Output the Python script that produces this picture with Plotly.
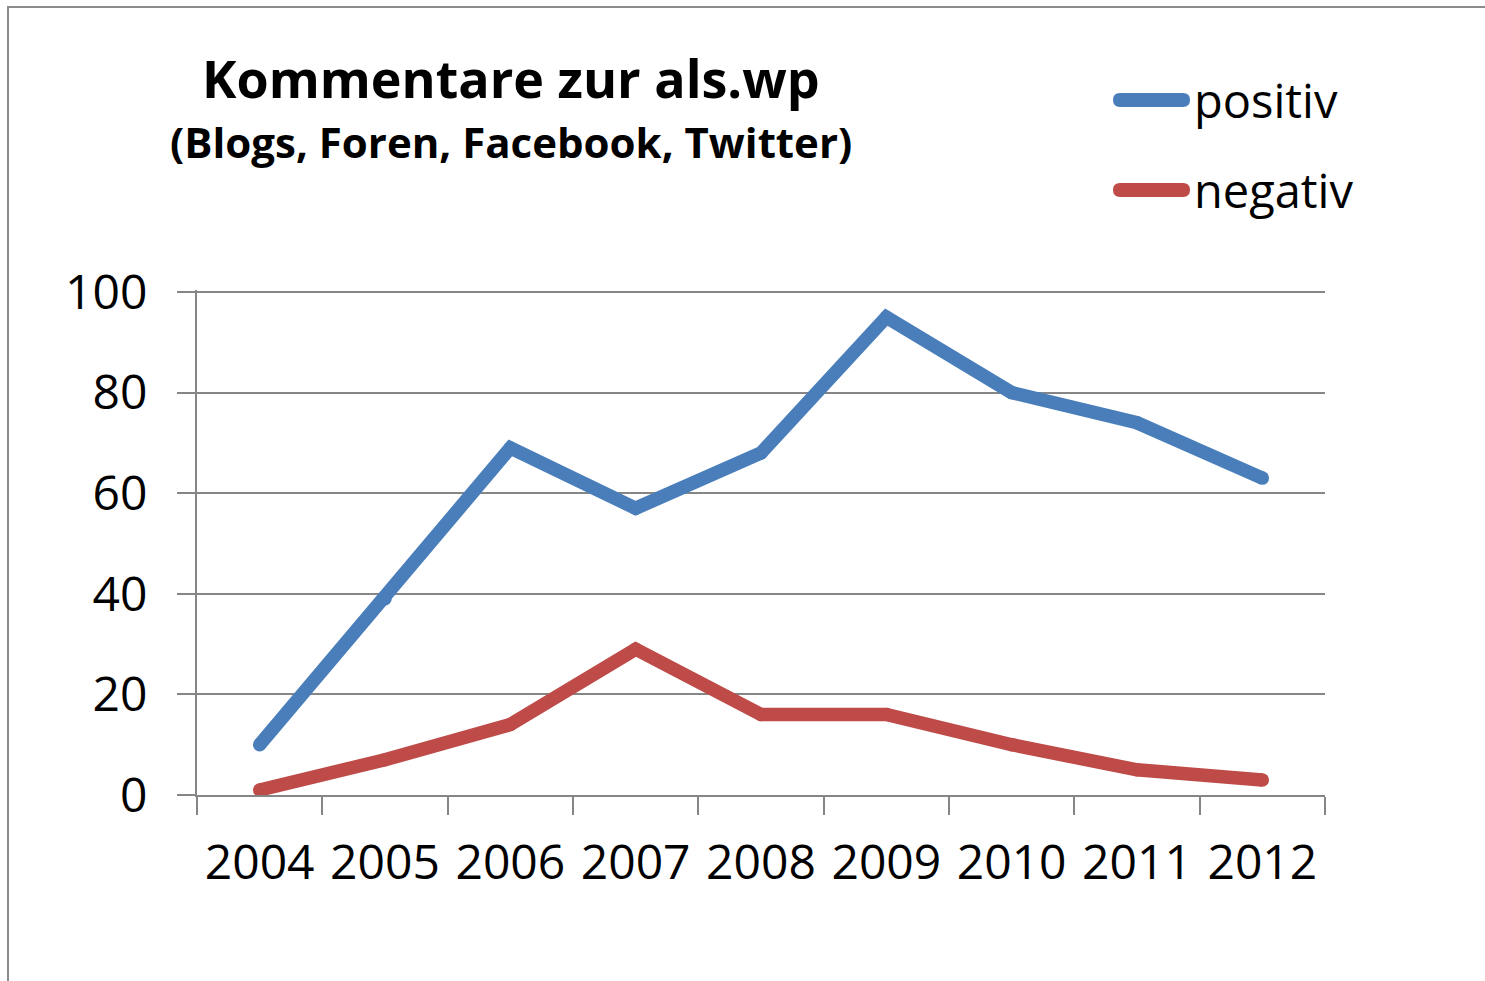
import plotly.graph_objects as go

# ---- data ----
years = ["2004", "2005", "2006", "2007", "2008", "2009", "2010", "2011", "2012"]
positiv = [10, 39, 69, 57, 68, 95, 80, 74, 63]
negativ = [1, 7, 14, 29, 16, 16, 10, 5, 3]
y_ticks = [0, 20, 40, 60, 80, 100]
series_names = ["positiv", "negativ"]
series_colors = ["#4A7EBB", "#BE4B48"]
title_text = "Kommentare zur als.wp"
subtitle_text = "(Blogs, Foren, Facebook, Twitter)"

# ---- geometry (pixels) ----
W, H = 1485, 981
Y_TOP = 100.4
L, R, B = 197, 1325, 795
T = B - (B - 292) * Y_TOP / 100.0
GRAY = "#868686"
FONT = "Open Sans"


def px(x):
    return (x - L) / (R - L)


def py(y):
    return (B - y) / (B - T)


fig = go.Figure()
for name, vals, col in zip(series_names, [positiv, negativ], series_colors):
    fig.add_trace(go.Scatter(
        x=years, y=vals, name=name, mode="lines+markers",
        line=dict(color=col, width=13.5),
        marker=dict(size=13.5, color=col, line=dict(width=0)),
        showlegend=False,
    ))

shapes = []
# outer chart border
shapes.append(dict(type="rect", xref="paper", yref="paper",
                   x0=px(8), x1=px(1500), y0=py(1000), y1=py(7),
                   line=dict(color="#8C8C8C", width=2), fillcolor="rgba(0,0,0,0)",
                   layer="below"))

# manual legend: capsules + labels
annotations = []
leg_y = [100, 190]
x0c, x1c, r = 1120, 1183, 7
for name, col, yc in zip(series_names, series_colors, leg_y):
    rx = r / (R - L)
    ry = r / (B - T)
    a, b_ = px(x0c), px(x1c)
    c = py(yc)
    path = (f"M {a},{c+ry} L {b_},{c+ry} Q {b_+rx},{c+ry} {b_+rx},{c} "
            f"Q {b_+rx},{c-ry} {b_},{c-ry} L {a},{c-ry} Q {a-rx},{c-ry} {a-rx},{c} "
            f"Q {a-rx},{c+ry} {a},{c+ry} Z")
    shapes.append(dict(type="path", xref="paper", yref="paper", path=path,
                       fillcolor=col, line=dict(width=0)))
    annotations.append(dict(text=name, xref="paper", yref="paper",
                            x=px(1192), y=py(yc), xanchor="left", yanchor="middle",
                            showarrow=False,
                            font=dict(family=FONT, size=47, color="#000000")))

annotations.append(dict(text=title_text, xref="paper", yref="paper",
                        x=px(511), y=py(77), xanchor="center", yanchor="middle",
                        showarrow=False,
                        font=dict(family=FONT, size=52, color="#000000", weight="bold")))
annotations.append(dict(text=subtitle_text, xref="paper", yref="paper",
                        x=px(511), y=py(141), xanchor="center", yanchor="middle",
                        showarrow=False,
                        font=dict(family=FONT, size=42, color="#000000", weight="bold")))

fig.update_layout(
    width=W, height=H,
    margin=dict(l=L, r=W - R, t=T, b=H - B, autoexpand=False),
    paper_bgcolor="white", plot_bgcolor="white",
    showlegend=False,
    shapes=shapes, annotations=annotations,
    xaxis=dict(type="category", range=[-0.5, 8.5], tickson="boundaries",
               ticks="outside", ticklen=18, tickwidth=2, tickcolor=GRAY,
               showline=True, linecolor=GRAY, linewidth=2, showgrid=False,
               ticklabelstandoff=24,
               tickfont=dict(family=FONT, size=48, color="#000000")),
    yaxis=dict(range=[0, Y_TOP], tickmode="array", tickvals=y_ticks,
               ticks="outside", ticklen=18, tickwidth=2, tickcolor=GRAY,
               showline=True, linecolor=GRAY, linewidth=2,
               showgrid=True, gridcolor=GRAY, gridwidth=2, zeroline=False,
               ticklabelstandoff=20,
               tickfont=dict(family=FONT, size=48, color="#000000")),
)

fig.write_html("out.html", config={"displayModeBar": False},
               post_script="document.body.style.margin='0';document.body.style.overflow='hidden';")
